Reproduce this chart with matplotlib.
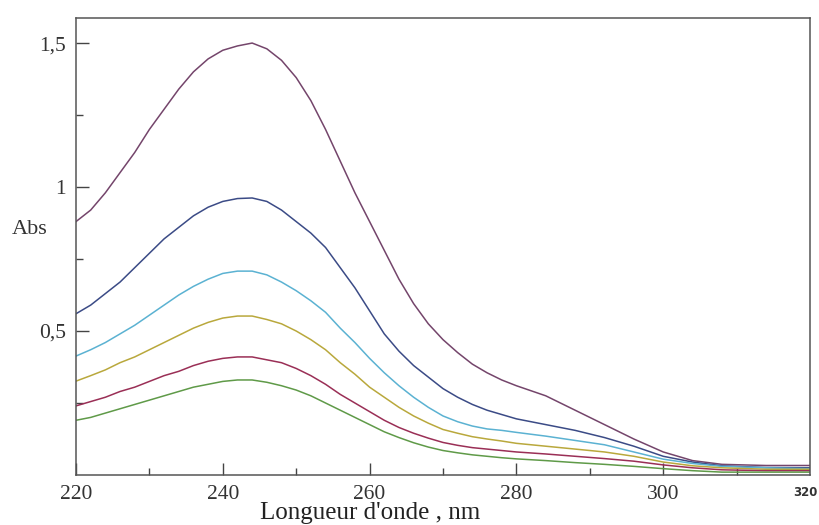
import matplotlib
matplotlib.use('Agg')
import matplotlib.pyplot as plt
from matplotlib.ticker import FixedLocator

# Wavelength grid (nm) shared by all spectra
wavelength = [220, 222, 224, 226, 228, 230, 232, 234, 236, 238, 240, 242, 244,
              246, 248, 250, 252, 254, 256, 258, 260, 262, 264, 266, 268, 270,
              272, 274, 276, 278, 280, 284, 288, 292, 296, 300, 304, 308, 314, 320]

# Absorbance of each solution, most concentrated first
abs_purple = [0.88, 0.92, 0.98, 1.05, 1.12, 1.20, 1.27, 1.34, 1.40, 1.445, 1.475, 1.49, 1.50,
              1.48, 1.44, 1.38, 1.30, 1.20, 1.09, 0.98, 0.88, 0.78, 0.68, 0.595, 0.525, 0.47,
              0.425, 0.385, 0.355, 0.33, 0.31, 0.275, 0.225, 0.175, 0.125, 0.08, 0.05, 0.037, 0.033, 0.033]
abs_blue = [0.56, 0.59, 0.63, 0.67, 0.72, 0.77, 0.82, 0.86, 0.90, 0.93, 0.95, 0.96, 0.962,
            0.95, 0.92, 0.88, 0.84, 0.79, 0.72, 0.65, 0.57, 0.49, 0.43, 0.38, 0.34, 0.30,
            0.27, 0.245, 0.225, 0.21, 0.195, 0.175, 0.155, 0.13, 0.10, 0.065, 0.045, 0.032, 0.026, 0.025]
abs_cyan = [0.413, 0.435, 0.46, 0.49, 0.52, 0.555, 0.59, 0.625, 0.655, 0.68, 0.70, 0.708, 0.708,
            0.695, 0.67, 0.64, 0.605, 0.565, 0.51, 0.46, 0.405, 0.355, 0.31, 0.27, 0.235, 0.205,
            0.185, 0.17, 0.16, 0.155, 0.148, 0.135, 0.12, 0.105, 0.08, 0.055, 0.04, 0.03, 0.025, 0.022]
abs_yellow = [0.326, 0.345, 0.365, 0.39, 0.41, 0.435, 0.46, 0.485, 0.51, 0.53, 0.545, 0.552, 0.552,
              0.54, 0.525, 0.50, 0.47, 0.435, 0.39, 0.35, 0.305, 0.27, 0.235, 0.205, 0.18, 0.158,
              0.145, 0.133, 0.125, 0.118, 0.11, 0.10, 0.09, 0.08, 0.065, 0.045, 0.032, 0.025, 0.02, 0.02]
abs_red = [0.24, 0.255, 0.27, 0.29, 0.305, 0.325, 0.345, 0.36, 0.38, 0.395, 0.405, 0.41, 0.41,
           0.40, 0.39, 0.37, 0.345, 0.315, 0.28, 0.25, 0.22, 0.19, 0.165, 0.145, 0.128, 0.113,
           0.103, 0.095, 0.09, 0.085, 0.08, 0.073, 0.065, 0.057, 0.048, 0.035, 0.025, 0.018, 0.015, 0.015]
abs_green = [0.19, 0.20, 0.215, 0.23, 0.245, 0.26, 0.275, 0.29, 0.305, 0.315, 0.325, 0.33, 0.33,
             0.322, 0.31, 0.295, 0.275, 0.25, 0.225, 0.20, 0.175, 0.15, 0.13, 0.112, 0.097, 0.085,
             0.077, 0.07, 0.065, 0.06, 0.056, 0.05, 0.043, 0.037, 0.03, 0.022, 0.015, 0.01, 0.01, 0.01]

spectra = [abs_purple, abs_blue, abs_cyan, abs_yellow, abs_red, abs_green]
colors = ['#74456b', '#3b4b86', '#5bb2d2', '#b9a83c', '#9a2f56', '#5f9a48']

x_major = [220, 240, 260, 280, 300]
x_minor = [230, 250, 270, 290, 310]
y_major = [0.5, 1.0, 1.5]
y_minor = [0.25, 0.75, 1.25]
y_labels = ['0,5', '1', '1,5']

plt.rcParams['font.family'] = ['Liberation Serif', 'DejaVu Serif']

fig = plt.figure(figsize=(8.19, 5.25), dpi=100)
ax = fig.add_axes([76 / 819, 50 / 525, 734 / 819, 457 / 525])

for y, c in zip(spectra, colors):
    ax.plot(wavelength, y, color=c, lw=1.1)

ax.set_xlim(220, 320)
ax.set_ylim(0, 1.587)

ax.xaxis.set_major_locator(FixedLocator(x_major))
ax.xaxis.set_minor_locator(FixedLocator(x_minor))
ax.yaxis.set_major_locator(FixedLocator(y_major))
ax.yaxis.set_minor_locator(FixedLocator(y_minor))
ax.set_yticklabels(y_labels)
ax.set_xticklabels([str(v) for v in x_major])

ax.tick_params(which='both', direction='in', colors='#444444', labelcolor='#333333',
               labelsize=15.5, width=1.0)
ax.tick_params(which='major', length=9, pad=7)
ax.tick_params(which='minor', length=5)
ax.tick_params(axis='y', which='major', pad=7)

for s in ax.spines.values():
    s.set_color('#555555')
    s.set_linewidth(1.1)

# "320" end label in a small bold sans face
fig.text(818 / 819, 1 - 493 / 525, '320', ha='right', va='center',
         fontsize=8.5, fontweight='bold', family='DejaVu Sans', color='#333333')

fig.text(30 / 819, 1 - 229 / 525, 'Abs', ha='center', va='center', fontsize=16, color='#333333')
fig.text(370 / 819, 1 - 513 / 525, "Longueur d'onde , nm", ha='center', va='center',
         fontsize=18, color='#222222')

fig.savefig('out.png', dpi=100)
